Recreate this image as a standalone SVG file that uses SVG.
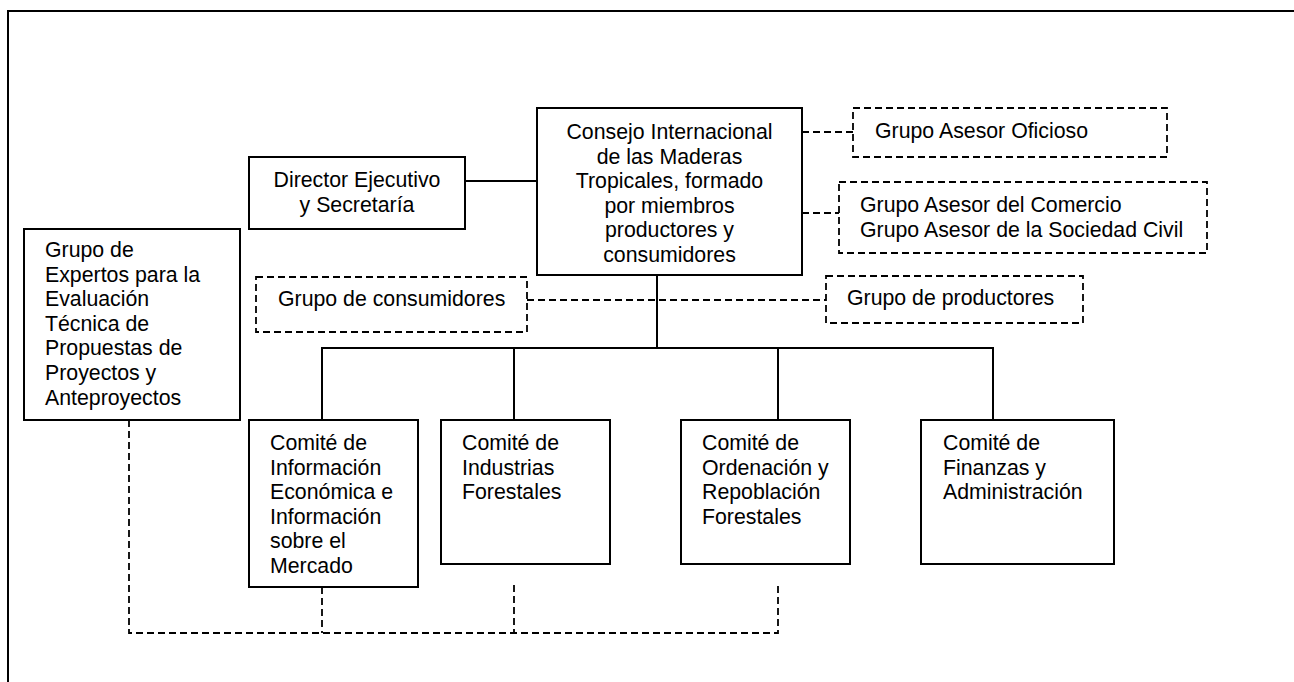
<svg xmlns="http://www.w3.org/2000/svg" width="1294" height="682" viewBox="0 0 1294 682">
<style>
  text { font-family: "Liberation Sans", Arial, sans-serif; font-size: 21.3px; fill: #000; }
  .c { text-anchor: middle; }
  .box { fill: #fff; stroke: #000; stroke-width: 2; }
  .dbox { fill: #fff; stroke: #000; stroke-width: 1.8; stroke-dasharray: 7 4; }
  .solid { fill: none; stroke: #000; stroke-width: 2; }
  .dash { fill: none; stroke: #000; stroke-width: 1.8; stroke-dasharray: 7 4; }
</style>
<rect width="1294" height="682" fill="#fff"/>
<path d="M8,682 V11 H1294" fill="none" stroke="#000" stroke-width="2"/>
<g id="connectors">
  <line class="solid" x1="465" y1="181" x2="537" y2="181"/>
  <line class="dash" x1="802" y1="132" x2="853" y2="132"/>
  <line class="dash" x1="802" y1="213" x2="839" y2="213"/>
  <line class="dash" x1="527" y1="300" x2="826" y2="300"/>
  <line class="solid" x1="657" y1="275" x2="657" y2="348"/>
  <path class="solid" d="M322,420 V348 H993 V420"/>
  <line class="solid" x1="514" y1="348" x2="514" y2="420"/>
  <line class="solid" x1="778" y1="348" x2="778" y2="420"/>
  <path class="dash" d="M129,420 V633 H778 V585"/>
  <line class="dash" x1="322" y1="587" x2="322" y2="633"/>
  <line class="dash" x1="514" y1="585" x2="514" y2="633"/>
</g>
<g id="consejo">
  <rect class="box" x="537" y="108" width="265" height="167"/>
  <text class="c" x="669.5" y="139">Consejo Internacional</text>
  <text class="c" x="669.5" y="163.5">de las Maderas</text>
  <text class="c" x="669.5" y="188">Tropicales, formado</text>
  <text class="c" x="669.5" y="212.5">por miembros</text>
  <text class="c" x="669.5" y="237">productores y</text>
  <text class="c" x="669.5" y="261.5">consumidores</text>
</g>
<g id="director">
  <rect class="box" x="249" y="157" width="216" height="72"/>
  <text class="c" x="357" y="187">Director Ejecutivo</text>
  <text class="c" x="357" y="211.5">y Secretaría</text>
</g>
<g id="oficioso">
  <rect class="dbox" x="853" y="108" width="314" height="49"/>
  <text x="875" y="138">Grupo Asesor Oficioso</text>
</g>
<g id="comercio">
  <rect class="dbox" x="839" y="182" width="368" height="71"/>
  <text x="860" y="211.5">Grupo Asesor del Comercio</text>
  <text x="860" y="236.5">Grupo Asesor de la Sociedad Civil</text>
</g>
<g id="consumidores">
  <rect class="dbox" x="256" y="277" width="271" height="55"/>
  <text x="278" y="306">Grupo de consumidores</text>
</g>
<g id="productores">
  <rect class="dbox" x="826" y="276" width="257" height="47"/>
  <text x="847" y="305">Grupo de productores</text>
</g>
<g id="expertos">
  <rect class="box" x="24" y="229" width="216" height="191"/>
  <text x="45" y="257">Grupo de</text>
  <text x="45" y="281.6">Expertos para la</text>
  <text x="45" y="306.2">Evaluación</text>
  <text x="45" y="330.8">Técnica de</text>
  <text x="45" y="355.4">Propuestas de</text>
  <text x="45" y="380">Proyectos y</text>
  <text x="45" y="404.6">Anteproyectos</text>
</g>
<g id="informacion">
  <rect class="box" x="249" y="420" width="169" height="167"/>
  <text x="270" y="450">Comité de</text>
  <text x="270" y="474.6">Información</text>
  <text x="270" y="499.2">Económica e</text>
  <text x="270" y="523.8">Información</text>
  <text x="270" y="548.4">sobre el</text>
  <text x="270" y="573">Mercado</text>
</g>
<g id="industrias">
  <rect class="box" x="441" y="420" width="169" height="144"/>
  <text x="462" y="450">Comité de</text>
  <text x="462" y="474.6">Industrias</text>
  <text x="462" y="499.2">Forestales</text>
</g>
<g id="ordenacion">
  <rect class="box" x="681" y="420" width="169" height="144"/>
  <text x="702" y="450">Comité de</text>
  <text x="702" y="474.6">Ordenación y</text>
  <text x="702" y="499.2">Repoblación</text>
  <text x="702" y="523.8">Forestales</text>
</g>
<g id="finanzas">
  <rect class="box" x="921" y="420" width="193" height="144"/>
  <text x="943" y="450">Comité de</text>
  <text x="943" y="474.6">Finanzas y</text>
  <text x="943" y="499.2">Administración</text>
</g>
</svg>
